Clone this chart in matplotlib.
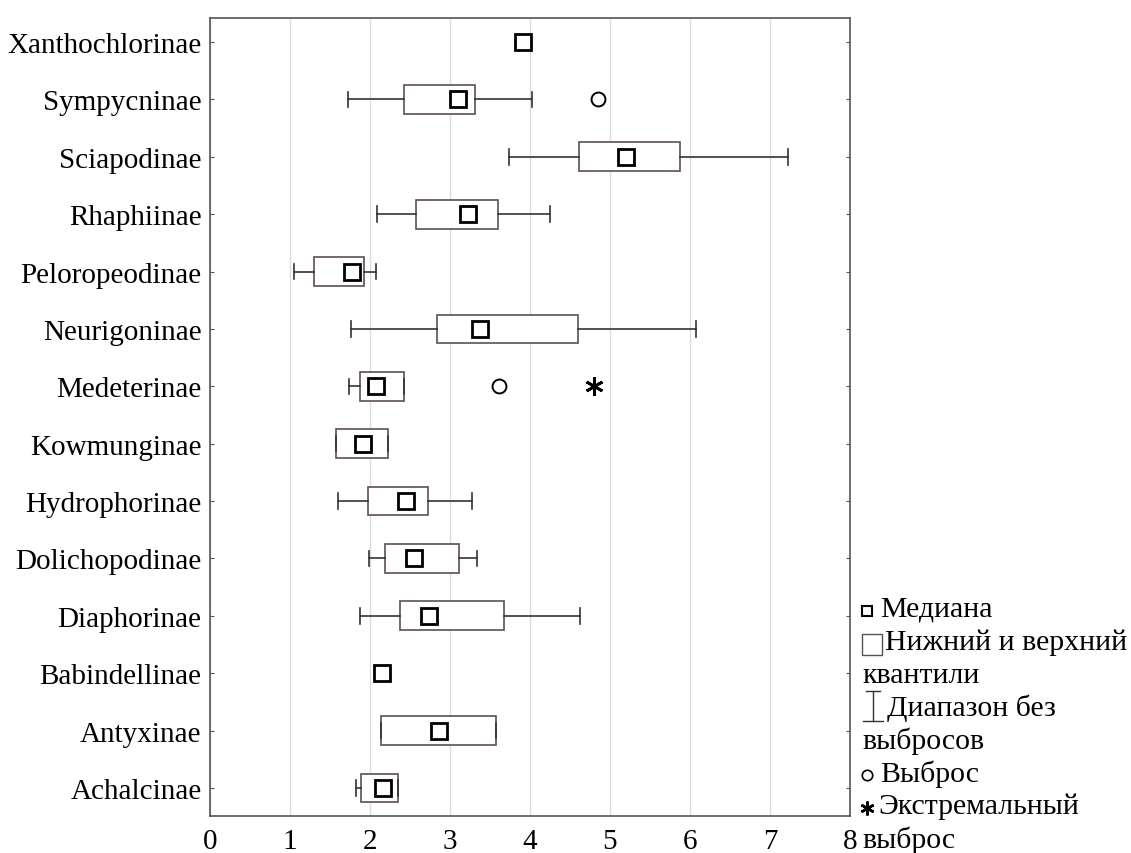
import numpy as np
import matplotlib
matplotlib.use('Agg')
import matplotlib.pyplot as plt
from matplotlib.lines import Line2D
from matplotlib.patches import Rectangle

plt.rcParams['font.family'] = ['Liberation Serif', 'DejaVu Serif']

# subfamilies, bottom to top
categories = ["Achalcinae", "Antyxinae", "Babindellinae", "Diaphorinae",
              "Dolichopodinae", "Hydrophorinae", "Kowmunginae", "Medeterinae",
              "Neurigoninae", "Peloropeodinae", "Rhaphiinae", "Sciapodinae",
              "Sympycninae", "Xanthochlorinae"]

nan = np.nan
medians = [2.16, 2.86, 2.15, 2.74, 2.55, 2.45, 1.91, 2.08, 3.37, 1.77, 3.22, 5.20, 3.10, 3.91]
q1 = [1.89, 2.14, nan, 2.38, 2.19, 1.98, 1.58, 1.87, 2.84, 1.30, 2.57, 4.61, 2.43, nan]
q3 = [2.35, 3.58, nan, 3.67, 3.11, 2.72, 2.22, 2.42, 4.60, 1.92, 3.60, 5.88, 3.31, nan]
whislo = [1.83, 2.14, nan, 1.87, 1.99, 1.60, 1.58, 1.74, 1.76, 1.05, 2.09, 3.74, 1.72, nan]
whishi = [2.35, 3.58, nan, 4.63, 3.34, 3.27, 2.22, 2.42, 6.07, 2.08, 4.25, 7.22, 4.02, nan]

outliers = {"Medeterinae": [3.61], "Sympycninae": [4.85]}
extremes = {"Medeterinae": [4.80]}

legend_lines = ["Медиана", "Нижний и верхний", "квантили", "Диапазон без",
                "выбросов", "Выброс", "Экстремальный", "выброс"]

W, H = 1131, 854
fig = plt.figure(figsize=(W / 100, H / 100), dpi=100)
ax = fig.add_axes([210 / W, 37 / H, 640 / W, 798 / H])

box_col = '#5e4f4f'
line_col = '#333333'

pos = np.arange(len(categories))
stats = []
positions = []
for i, name in enumerate(categories):
    if np.isnan(q1[i]):
        continue
    stats.append(dict(med=medians[i], q1=q1[i], q3=q3[i],
                      whislo=whislo[i], whishi=whishi[i], fliers=[]))
    positions.append(pos[i])

ax.bxp(stats, positions=positions, vert=False, widths=0.5, capwidths=0.27,
       patch_artist=True, showfliers=False,
       boxprops=dict(facecolor='white', edgecolor=box_col, linewidth=1.2),
       whiskerprops=dict(color=line_col, linewidth=1.2),
       capprops=dict(color=line_col, linewidth=1.2),
       medianprops=dict(linewidth=0))

ax.plot(medians, pos, ls='none', marker='s', ms=11, mfc='white',
        mec='black', mew=2.0, zorder=5)

for name, vals in outliers.items():
    i = categories.index(name)
    ax.plot(vals, [pos[i]] * len(vals), ls='none', marker='o', ms=10,
            mfc='none', mec='black', mew=1.4, zorder=5)
for name, vals in extremes.items():
    i = categories.index(name)
    ax.plot(vals, [pos[i]] * len(vals), ls='none', marker=(6, 2, 0), ms=13,
            mec='black', mew=2.0, zorder=5)

ax.set_xlim(0, 8)
ax.set_ylim(-0.49, 13.42)
ax.set_yticks(pos)
ax.set_yticklabels(categories)
ax.set_xticks(np.arange(0, 9))
ax.grid(axis='x', color='#dcdcdc', linewidth=1.0)
ax.set_axisbelow(True)
ax.tick_params(axis='y', direction='in', length=3, left=True, right=True,
               labelsize=21, pad=6, color='#555555')
ax.tick_params(axis='x', length=0, labelsize=21, pad=9)
for s in ax.spines.values():
    s.set_color('#555555')
    s.set_linewidth(1.2)

# legend drawn by hand, as in the reference
def fx(x):
    return x / W

def fy(y):
    return 1 - y / H

ys = [610, 643, 676, 708, 741, 774, 807, 840]
xs = [880, 885, 862, 887, 862, 880, 878, 862]
for t, x, y in zip(legend_lines, xs, ys):
    fig.text(fx(x), fy(y), t, fontsize=21.5, va='center', ha='left')

fig.add_artist(Line2D([fx(867)], [fy(612)], marker='s', ms=7.5, mfc='white',
                      mec='black', mew=1.5, ls='none'))
fig.add_artist(Rectangle((fx(862), fy(656)), fx(882) - fx(862), fy(635) - fy(656),
                         transform=fig.transFigure, facecolor='white',
                         edgecolor=box_col, linewidth=1.0))
fig.add_artist(Line2D([fx(873), fx(873)], [fy(692), fy(722)], color=line_col, lw=1.0))
fig.add_artist(Line2D([fx(866), fx(880)], [fy(692), fy(692)], color=line_col, lw=1.0))
fig.add_artist(Line2D([fx(863), fx(883)], [fy(722), fy(722)], color=line_col, lw=1.0))
fig.add_artist(Line2D([fx(867)], [fy(776)], marker='o', ms=7.5, mfc='none',
                      mec='black', mew=1.2, ls='none'))
fig.add_artist(Line2D([fx(867)], [fy(809)], marker=(6, 2, 0), ms=10,
                      mec='black', mew=1.8, ls='none'))

fig.savefig('out.png', dpi=100)
